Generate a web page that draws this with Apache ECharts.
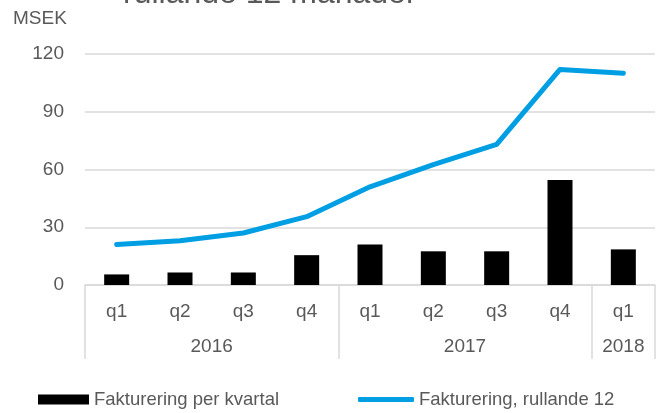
<!DOCTYPE html>
<html>
<head>
<meta charset="utf-8">
<script src="https://cdn.jsdelivr.net/npm/echarts@6/dist/echarts.min.js"></script>
<style>html,body{margin:0;padding:0;background:#fff}#c{width:658px;height:413px}</style>
</head>
<body>
<div id="c"></div>
<script>
var quarters = ['q1','q2','q3','q4','q1','q2','q3','q4','q1'];
var years = ['2016','2017','2018'];
var quartersPerYear = [4, 4, 1];
var perQuarter = [5.5, 6.5, 6.5, 15.5, 21, 17.5, 17.5, 54.5, 18.5];
var rolling12 = [21, 23, 27, 35.5, 51, 62.5, 73, 112, 110];
var yTicks = [0, 30, 60, 90, 120];
var seriesNames = ['Fakturering per kvartal', 'Fakturering, rullande 12'];
var titleText = 'rullande 12 månader';
var unitText = 'MSEK';

var FONT = 'Liberation Sans, Arial, Helvetica, sans-serif';
var GRAY = '#595959';
var LINEGRAY = '#d9d9d9';
var BLUE = '#009FE3';

var boundaries = [];
var yearCenters = {};
var acc = 0;
for (var i = 0; i < years.length; i++) {
  boundaries.push(acc);
  yearCenters[acc * 2 + quartersPerYear[i]] = years[i];
  acc += quartersPerYear[i];
}

var chart = echarts.init(document.getElementById('c'), null, {renderer: 'canvas'});
chart.setOption({
  animation: false,
  textStyle: {fontFamily: FONT},
  title: {
    text: titleText,
    left: 123,
    top: -22,
    padding: 0,
    textStyle: {fontFamily: FONT, fontSize: 32, fontWeight: 'normal', color: GRAY}
  },
  graphic: [{
    type: 'text',
    left: 13,
    top: 9,
    style: {text: unitText, fontFamily: FONT, fontSize: 19, fill: GRAY}
  }],
  legend: [{
    data: [{name: seriesNames[0], icon: 'rect'}],
    left: 33,
    top: 385,
    itemWidth: 51,
    itemHeight: 10,
    itemGap: 0,
    textStyle: {fontFamily: FONT, fontSize: 18.5, color: GRAY}
  }, {
    data: [{name: seriesNames[1], icon: 'roundRect'}],
    left: 353,
    top: 385,
    itemWidth: 56,
    itemHeight: 5,
    itemGap: 0,
    itemStyle: {color: BLUE, borderWidth: 0},
    textStyle: {fontFamily: FONT, fontSize: 18.5, color: GRAY}
  }],
  grid: {left: 85, right: 0, top: 54, bottom: 128, containLabel: false},
  xAxis: [{
    type: 'category',
    data: quarters,
    position: 'bottom',
    boundaryGap: true,
    axisLine: {show: true, lineStyle: {color: LINEGRAY, width: 1.5}},
    axisTick: {
      show: true,
      length: 74,
      lineStyle: {color: LINEGRAY, width: 1.5},
      interval: function (idx) { return boundaries.indexOf(idx) >= 0; }
    },
    axisLabel: {fontFamily: FONT, fontSize: 19, color: GRAY, margin: 17, interval: 0},
    splitLine: {show: false}
  }, {
    type: 'value',
    position: 'bottom',
    min: 0,
    max: quarters.length * 2,
    interval: 1,
    axisLine: {show: false},
    axisTick: {show: false},
    splitLine: {show: false},
    axisLabel: {
      fontFamily: FONT, fontSize: 19, color: GRAY, margin: 52,
      showMinLabel: true, showMaxLabel: true,
      formatter: function (v) { return yearCenters[v] || ''; }
    }
  }],
  yAxis: {
    type: 'value',
    min: yTicks[0],
    max: yTicks[yTicks.length - 1],
    interval: yTicks[1] - yTicks[0],
    axisLine: {show: false},
    axisTick: {show: false},
    axisLabel: {fontFamily: FONT, fontSize: 19, color: GRAY, margin: 21},
    splitLine: {lineStyle: {color: LINEGRAY, width: 1.5}}
  },
  series: [{
    name: seriesNames[0],
    type: 'bar',
    xAxisIndex: 0,
    data: perQuarter,
    barWidth: 25,
    itemStyle: {color: '#000000'},
    z: 2
  }, {
    name: seriesNames[1],
    type: 'line',
    xAxisIndex: 0,
    data: rolling12,
    symbol: 'none',
    lineStyle: {color: BLUE, width: 5, cap: 'round', join: 'round'},
    itemStyle: {color: BLUE},
    z: 3
  }]
});
</script>
</body>
</html>
